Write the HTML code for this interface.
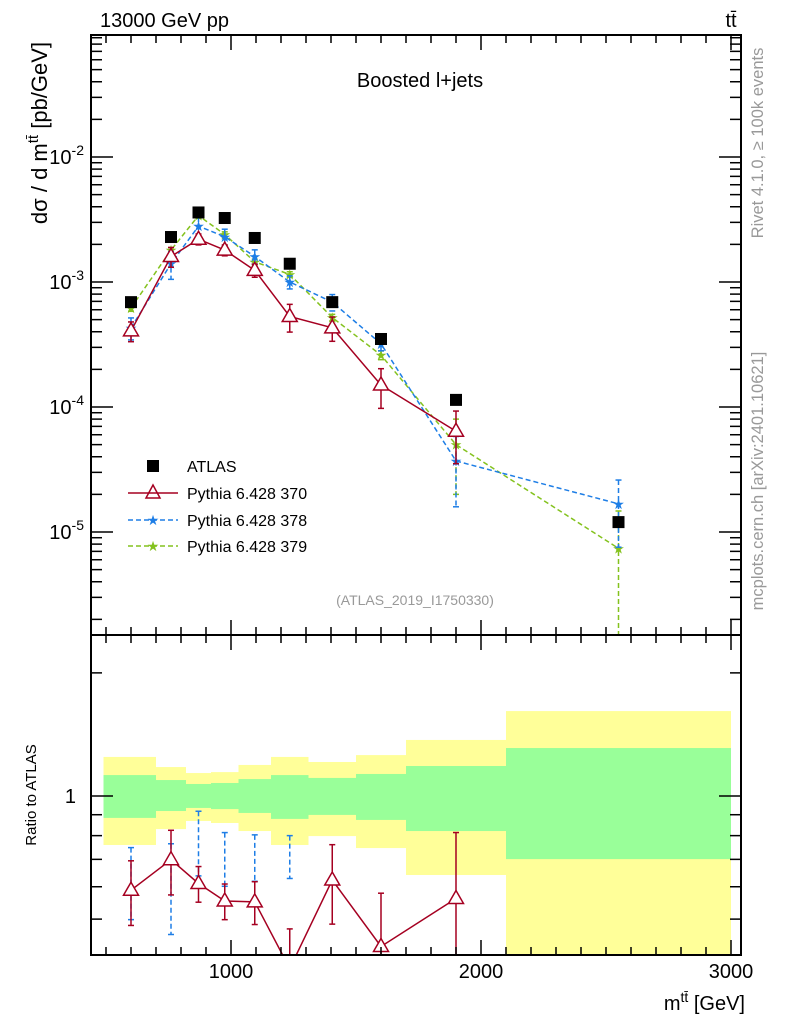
<!DOCTYPE html>
<html><head><meta charset="utf-8"><style>
html,body{margin:0;padding:0;background:#fff}
svg{display:block;font-family:"Liberation Sans",sans-serif}
</style></head><body>
<svg id="c" width="786" height="1024" viewBox="0 0 786 1024" xmlns="http://www.w3.org/2000/svg">
<g id="bands"></g><g id="grid"></g><g id="marks"></g><g id="axes"></g>
<text x="100" y="27" font-size="20">13000 GeV pp</text>
<text x="731" y="27" font-size="20" text-anchor="middle">tt̄</text>
<text x="420" y="87" font-size="20" text-anchor="middle">Boosted l+jets</text>
<text x="415" y="605" font-size="14" fill="#999" text-anchor="middle">(ATLAS_2019_I1750330)</text>
<text transform="translate(47,133) rotate(-90)" font-size="22" text-anchor="middle">dσ / d m<tspan dy="-9" font-size="15">tt̄</tspan><tspan dy="9"> [pb/GeV]</tspan></text>
<text transform="translate(36,795) rotate(-90)" font-size="15" text-anchor="middle">Ratio to ATLAS</text>
<text x="745" y="1010" font-size="20" text-anchor="end">m<tspan dy="-8" font-size="14">tt̄</tspan><tspan dy="8"> [GeV]</tspan></text>
<text transform="translate(763,143) rotate(-90)" font-size="16.5" fill="#999" text-anchor="middle">Rivet 4.1.0, ≥ 100k events</text>
<text transform="translate(763,481) rotate(-90)" font-size="16.5" fill="#999" text-anchor="middle">mcplots.cern.ch [arXiv:2401.10621]</text>
<g>
<rect x="147" y="460" width="12" height="12" fill="#000"/>
<text x="187" y="472" font-size="16">ATLAS</text>
<line x1="128" y1="493" x2="178" y2="493" stroke="#a50021" stroke-width="1.5"/>
<path d="M153,485 L160,498 L146,498 Z" fill="none" stroke="#a50021" stroke-width="1.5"/>
<text x="187" y="499" font-size="16">Pythia 6.428 370</text>
<line x1="128" y1="520" x2="178" y2="520" stroke="#1e7ee6" stroke-width="1.5" stroke-dasharray="5,3"/>
<text x="153" y="525" font-size="14" fill="#1e7ee6" text-anchor="middle">★</text>
<text x="187" y="526" font-size="16">Pythia 6.428 378</text>
<line x1="128" y1="546" x2="178" y2="546" stroke="#84c21e" stroke-width="1.5" stroke-dasharray="5,3"/>
<text x="153" y="551" font-size="14" fill="#84c21e" text-anchor="middle">★</text>
<text x="187" y="552" font-size="16">Pythia 6.428 379</text>
</g>
</svg>
<script>
const edges=[490,700,820,920,1030,1160,1310,1500,1700,2100,3000];
const centers=[600,760,870,975,1095,1235,1405,1600,1900,2550];
const atlas=[6.9e-4,2.29e-3,3.6e-3,3.25e-3,2.25e-3,1.4e-3,6.9e-4,3.5e-4,1.14e-4,1.2e-5];
const p370=[4.06e-4,1.6e-3,2.2e-3,1.8e-3,1.24e-3,5.3e-4,4.3e-4,1.5e-4,6.4e-5,null];
const e370=[0.18,0.18,0.1,0.1,0.12,0.25,0.22,0.35,0.45,0];
const p378=[4.3e-4,1.4e-3,2.8e-3,2.3e-3,1.6e-3,1.0e-3,6.9e-4,3.2e-4,3.7e-5,1.68e-5];
const e378=[0.2,0.25,0.18,0.15,0.13,0.12,0.15,0.12,0.57,0.55];
const p379=[6.2e-4,1.8e-3,3.4e-3,2.4e-3,1.45e-3,1.15e-3,5.2e-4,2.6e-4,5e-5,7.4e-6];
const e379=[0.06,0.05,0.05,0.05,0.05,0.05,0.06,0.08,0.6,0.99];
const yelLo=[0.759,0.830,0.869,0.859,0.821,0.759,0.798,0.746,0.641,0.3];
const yelHi=[1.246,1.177,1.138,1.144,1.191,1.246,1.211,1.259,1.371,1.613];
const grnLo=[0.884,0.919,0.935,0.929,0.909,0.879,0.899,0.874,0.821,0.701];
const grnHi=[1.125,1.094,1.070,1.076,1.100,1.125,1.107,1.132,1.184,1.310];
const ratio378Idx=[0,1,2,3,4,5];

const NS="http://www.w3.org/2000/svg";
const L=91,R=741,T=35,MB=635,RB=955;
const X=v=>-19+0.25*v;
const Y=v=>157-125*(Math.log10(v)+2);
const YR=v=>796-409*Math.log10(v);
function mk(tag,at,parent){const e=document.createElementNS(NS,tag);for(const k in at)e.setAttribute(k,at[k]);document.getElementById(parent).appendChild(e);return e;}

const defs=document.createElementNS(NS,'defs');document.getElementById('c').prepend(defs);
defs.innerHTML='<clipPath id="cm"><rect x="91" y="35" width="650" height="600"/></clipPath><clipPath id="cr"><rect x="91" y="635" width="650" height="320"/></clipPath>';
document.getElementById('bands').setAttribute('clip-path','url(#cr)');

for(let i=0;i<centers.length;i++){
  const x1=X(edges[i]),x2=X(edges[i+1]);
  let r=mk('rect',{x:x1,y:YR(yelHi[i]),width:x2-x1,height:YR(yelLo[i])-YR(yelHi[i]),fill:'#ffff99'},'bands');
  
  
  r=mk('rect',{x:x1,y:YR(grnHi[i]),width:x2-x1,height:YR(grnLo[i])-YR(grnHi[i]),fill:'#99ff99'},'bands');
  
  
}

const gm=mk('g',{'clip-path':'url(#cm)'},'marks');


const gr=mk('g',{'clip-path':'url(#cr)'},'marks');


function add(g,tag,at){const e=document.createElementNS(NS,tag);for(const k in at)e.setAttribute(k,at[k]);g.appendChild(e);return e;}
function errbar(g,x,y1,y2,col,dash){add(g,'line',{x1:x,x2:x,y1:y1,y2:y2,stroke:col,'stroke-width':1.5,'stroke-dasharray':dash||'none'});add(g,'line',{x1:x-3,x2:x+3,y1:y1,y2:y1,stroke:col,'stroke-width':1.5});add(g,'line',{x1:x-3,x2:x+3,y1:y2,y2:y2,stroke:col,'stroke-width':1.5});}
function star(g,x,y,col){const t=add(g,'text',{x:x,y:y+5,'font-size':14,fill:col,'text-anchor':'middle'});t.textContent='★';}
function tri(g,x,y){const p=add(g,'path',{d:`M${x},${y-8} L${x+7.5},${y+5} L${x-7.5},${y+5} Z`,fill:'#fff',stroke:'#a50021','stroke-width':1.5});}

function series(vals,errs,col,dash,kind){
  let pts=[];
  vals.forEach((v,i)=>{if(v!=null)pts.push([X(centers[i]),Y(v)]);});
  const pl=add(gm,'polyline',{points:pts.map(p=>p.join(',')).join(' '),fill:'none',stroke:col,'stroke-width':1.5,'stroke-dasharray':dash||'none'});
  
  
  vals.forEach((v,i)=>{if(v==null)return;const lo=Math.max(v*(1-errs[i]),1e-7);errbar(gm,X(centers[i]),Y(v*(1+errs[i])),Y(lo),col,dash);});
  vals.forEach((v,i)=>{if(v==null)return;kind=='tri'?tri(gm,X(centers[i]),Y(v)):star(gm,X(centers[i]),Y(v),col);});
}
series(p379,e379,'#84c21e','5,3','star');
series(p378,e378,'#1e7ee6','5,3','star');
series(p370,e370,'#a50021',null,'tri');
atlas.forEach((v,i)=>{const r=add(gm,'rect',{x:X(centers[i])-6,y:Y(v)-6,width:12,height:12,fill:'#000'});});

ratio378Idx.forEach(i=>{const r=p378[i]/atlas[i];errbar(gr,X(centers[i]),YR(r*(1+e378[i])),YR(r*(1-e378[i])),'#1e7ee6','5,3');});
let rp=[];
p370.forEach((v,i)=>{if(v!=null)rp.push([X(centers[i]),YR(v/atlas[i])]);});
const rl=add(gr,'polyline',{points:rp.map(p=>p.join(',')).join(' '),fill:'none',stroke:'#a50021','stroke-width':1.5});


p370.forEach((v,i)=>{if(v==null)return;const r=v/atlas[i];errbar(gr,X(centers[i]),YR(r*(1+e370[i])),YR(r*(1-e370[i])),'#a50021');tri(gr,X(centers[i]),YR(r));});

const ax='axes';
[[T,MB],[MB,RB]].forEach(([t,b])=>{const f=mk('rect',{x:L,y:t,width:R-L,height:b-t,fill:'none',stroke:'#000','stroke-width':2},ax);});
for(let v=500;v<=3000;v+=100){const x=X(v);const len=v%1000==0?15:8;
  [T,MB].forEach(y=>{mk('line',{x1:x,x2:x,y1:y,y2:y+len,stroke:'#000','stroke-width':1.5},ax);});
  [MB,RB].forEach(y=>{mk('line',{x1:x,x2:x,y1:y,y2:y-len,stroke:'#000','stroke-width':1.5},ax);});
}
const xticks=[1000,2000,3000];
xticks.forEach(v=>{const t=mk('text',{x:X(v),y:978,'font-size':20,'text-anchor':'middle'},ax);t.textContent=v;});
for(let d=-6;d<=-2;d++){for(let m=1;m<10;m++){const v=m*Math.pow(10,d);const y=Y(v);if(y<T||y>MB)continue;const len=m==1?22:11;
  mk('line',{x1:L,x2:L+len,y1:y,y2:y,stroke:'#000','stroke-width':1.5},ax);mk('line',{x1:R,x2:R-len,y1:y,y2:y,stroke:'#000','stroke-width':1.5},ax);}}
const ydecades=[-5,-4,-3,-2];
ydecades.forEach(d=>{const t=mk('text',{x:84,y:Y(Math.pow(10,d))+7,'font-size':20,'text-anchor':'end'},ax);t.innerHTML='10<tspan dy="-9" font-size="14">'+d+'</tspan>';});
const rticks=[0.5,0.6,0.7,0.8,0.9,1,2];
rticks.forEach(v=>{const y=YR(v);const len=v==1?22:11;mk('line',{x1:L,x2:L+len,y1:y,y2:y,stroke:'#000','stroke-width':1.5},ax);mk('line',{x1:R,x2:R-len,y1:y,y2:y,stroke:'#000','stroke-width':1.5},ax);});
const rl1=mk('text',{x:76,y:YR(1)+7,'font-size':20,'text-anchor':'end'},ax);rl1.textContent='1';


</script>
</body></html>
